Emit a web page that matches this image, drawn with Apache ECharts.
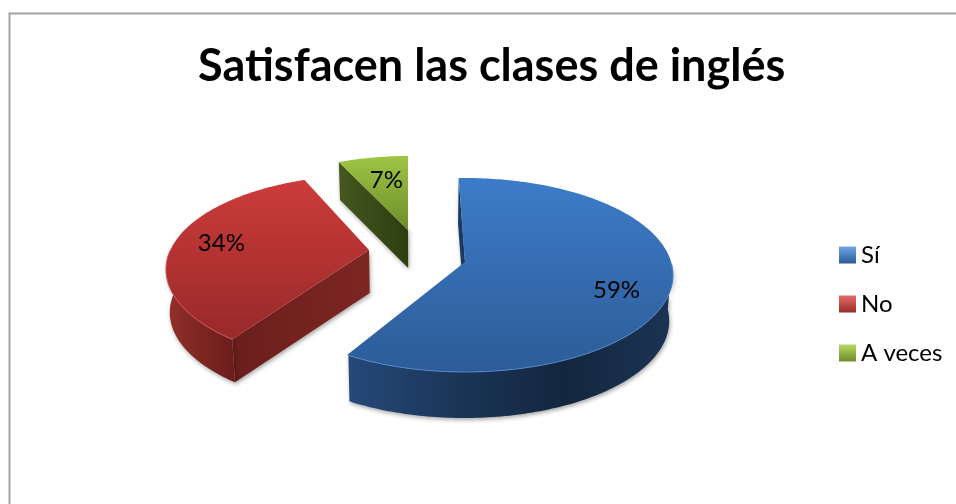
<!DOCTYPE html>
<html>
<head>
<meta charset="utf-8">
<script src="https://cdn.jsdelivr.net/npm/echarts@6/dist/echarts.min.js"></script>
<style>
  html, body { margin: 0; padding: 0; background: #fff; }
  #myChart { width: 956px; height: 504px; }
</style>
</head>
<body>
<div id="myChart"></div>
<script>
  const titleText = 'Satisfacen las clases de inglés'
  const categories = ['Sí', 'No', 'A veces']
  const percents = [59, 34, 7]

  const FONT = 'Lato, "Open Sans", sans-serif'
  const total = percents.reduce((a, b) => a + b, 0)

  // each slice is exploded on its own, so it gets its own perspective params
  // apex: inner corner, back: lift of the far rim, front: drop of the near rim, spread: x half width
  const sliceLayout = [
    { apexX: 465, apexY: 262, back: 84, front: 110, spread: 208, rot: -2, depth: 46, labelR: 0.74, labelDy: 11,
      top: ['#3d7cc9', '#2d5c97'], wall: ['#26497a', '#1a3557', '#14263f', '#1b3454'], cut: ['#1c3a60', '#1c3a60'], rim: '#4f86c8', icon: ['#6fa8e6', '#2a5a96'] },
    { apexX: 369, apexY: 250, back: 75, front: 114, spread: 203, rot: 2.5, depth: 43, labelR: 0.76, labelDy: 0,
      top: ['#cc3c39', '#98292a'], wall: ['#93302b', '#7c2622', '#6b1d1c'], cut: ['#6b1e1c', '#7d2622'], rim: '#d6524e', icon: ['#e86d69', '#9a2b29'] },
    { apexX: 408, apexY: 230, back: 74, front: 104, spread: 190, rot: 0, depth: 38, labelR: 0.58, labelDy: -5,
      top: ['#9fc544', '#6d8c2a'], wall: ['#3f521d', '#3f521d'], cut: ['#44581f', '#2d3d12'], rim: '#9fc544', icon: ['#b5d862', '#6d8c2a'] }
  ]

  function gradient(colors, vertical) {
    const stops = colors.map((c, i) => ({ offset: i / (colors.length - 1), color: c }))
    return new echarts.graphic.LinearGradient(0, 0, vertical ? 0 : 1, vertical ? 1 : 0, stops)
  }

  // projects a point of the unit disc (x right, y towards the viewer) to the screen
  function projector(l) {
    const ratio = l.front / l.back
    const D = (ratio + 1) / (ratio - 1)
    const G = l.back * D * (D + 1)
    const F = l.spread * Math.sqrt(D * D - 1)
    return (x, y) => {
      const z = D - y
      return [l.apexX + F * x / z, l.apexY + G / z - G / D]
    }
  }

  // angle clockwise from 12 o'clock
  function onRim(project, deg, r) {
    const a = deg * Math.PI / 180
    return project(r * Math.sin(a), -r * Math.cos(a))
  }

  // lower edge of the walls converges slightly towards the middle of the pie
  function lower(p, depth) {
    return [420 + (p[0] - 420) * 0.985, p[1] + depth]
  }

  function renderSlice(index, api) {
    const l = sliceLayout[index]
    const project = projector(l)
    const before = percents.slice(0, index).reduce((a, b) => a + b, 0)
    const start = before / total * 360 + l.rot
    const end = start + api.value(0) / total * 360
    const apex = project(0, 0)

    const rim = []
    const near = []
    for (let d = start; d < end; d += 1) {
      rim.push(onRim(project, d, 1))
      if (-Math.cos(d * Math.PI / 180) > 0) near.push(rim[rim.length - 1])
    }
    rim.push(onRim(project, end, 1))
    const first = rim[0]

    const shadow = { shadowBlur: 4, shadowColor: 'rgba(0,0,0,0.35)', shadowOffsetX: 1, shadowOffsetY: 2 }
    const children = []
    // only the cut face at the start of a slice can be seen from here
    children.push({
      type: 'polygon',
      shape: { points: [first, apex, lower(apex, l.depth), lower(first, l.depth)] },
      style: Object.assign({ fill: gradient(l.cut) }, shadow)
    })
    if (near.length > 1) {
      children.push({
        type: 'polygon',
        shape: { points: near.concat(near.map(p => lower(p, l.depth)).reverse()) },
        style: Object.assign({ fill: gradient(l.wall) }, shadow)
      })
    }
    children.push({
      type: 'polygon',
      shape: { points: rim.concat([apex]) },
      style: { fill: gradient(l.top, true) }
    })
    if (near.length > 1) {
      children.push({
        type: 'polyline',
        shape: { points: near },
        style: { fill: 'none', stroke: l.rim, lineWidth: 1 }
      })
    }
    const at = onRim(project, (start + end) / 2, l.labelR)
    children.push({
      type: 'text',
      style: {
        text: api.value(0) + '%',
        x: at[0],
        y: at[1] + l.labelDy,
        align: 'center',
        verticalAlign: 'middle',
        font: '24px ' + FONT,
        fill: '#000'
      }
    })
    return { type: 'group', children: children }
  }

  const myChart = echarts.init(document.getElementById('myChart'))
  myChart.setOption({
    animation: false,
    title: {
      text: titleText,
      left: 193,
      top: 39,
      textStyle: { fontFamily: FONT, fontSize: 45, fontWeight: 'bold', color: '#000' }
    },
    legend: {
      orient: 'vertical',
      left: 834,
      top: 238,
      selectedMode: false,
      itemWidth: 17,
      itemHeight: 17,
      itemGap: 25,
      textStyle: { fontFamily: FONT, fontSize: 24, color: '#000' },
      data: categories.map((name, i) => ({
        name: name,
        icon: 'rect',
        itemStyle: { color: gradient(sliceLayout[i].icon, true) }
      }))
    },
    graphic: [
      {
        type: 'rect',
        silent: true,
        shape: { x: 9.5, y: 13.5, width: 1200, height: 800 },
        style: { fill: 'none', stroke: '#a3a3a3', lineWidth: 2 }
      }
    ],
    series: categories.map((name, i) => ({
      name: name,
      type: 'custom',
      coordinateSystem: 'none',
      silent: true,
      itemStyle: { color: sliceLayout[i].top[0] },
      data: [[percents[i]]],
      renderItem: (params, api) => renderSlice(i, api)
    }))
  })
</script>
</body>
</html>
